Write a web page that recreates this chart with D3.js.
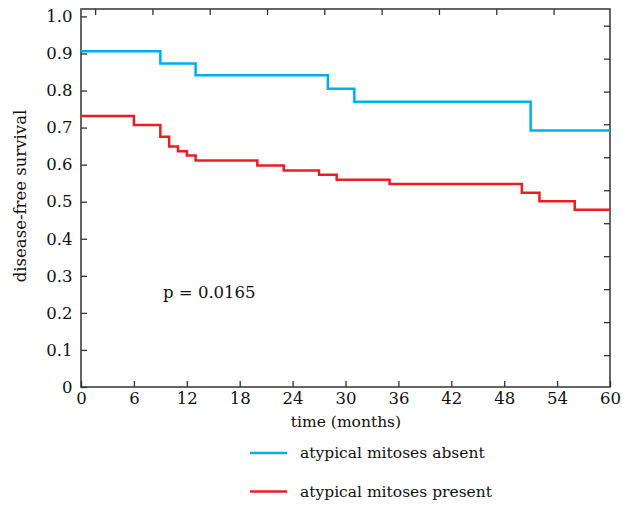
<!DOCTYPE html>
<html>
<head>
<meta charset="utf-8">
<script src="https://cdn.jsdelivr.net/npm/d3@7"></script>
<style>
  body { margin: 0; background: #fff; }
</style>
</head>
<body>
<div id="container"></div>
<script>
// chart data
let absentTimes = [0, 9, 13, 28, 31, 51, 60];
let absentSurv = [0.906, 0.873, 0.841, 0.805, 0.770, 0.692, 0.692];

let presentTimes = [0, 6, 9, 10, 11, 12, 13, 20, 23, 27, 29, 35, 50, 52, 56, 60];
let presentSurv = [0.731, 0.707, 0.675, 0.649, 0.636, 0.625, 0.611, 0.598, 0.584, 0.573, 0.559, 0.548, 0.524, 0.501, 0.478, 0.478];

let xTicks = [0, 6, 12, 18, 24, 30, 36, 42, 48, 54, 60];
let yTicks = [0, 0.1, 0.2, 0.3, 0.4, 0.5, 0.6, 0.7, 0.8, 0.9, 1.0];
// the top and right ticks of the frame are not aligned with the labelled ones
let topTicks = [1.6, 8.1, 14.6, 21.1, 27.6, 34.1, 40.6, 47.1, 53.6];
let rightTicks = [0.086, 0.175, 0.264, 0.353, 0.442, 0.531, 0.620, 0.709, 0.797, 0.886, 0.975];

let seriesNames = ["atypical mitoses absent", "atypical mitoses present"];
let seriesColors = ["#00aeef", "#ed1c24"];

let w = 622;
let h = 506;
let plotLeft = 81, plotRight = 610, plotTop = 9, plotBottom = 387;
let font = "'DejaVu Serif', 'Liberation Serif', serif";

let viz = d3.select("#container")
  .append("svg")
    .attr("width", w)
    .attr("height", h);

let xScale = d3.scaleLinear().domain([0, 60]).range([plotLeft, plotRight]);
let yScale = d3.scaleLinear().domain([0, 1.02]).range([plotBottom, plotTop]);

// frame
viz.append("rect")
  .attr("x", plotLeft).attr("y", plotTop)
  .attr("width", plotRight - plotLeft).attr("height", plotBottom - plotTop)
  .attr("fill", "none").attr("stroke", "#333").attr("stroke-width", 1.5);

// bottom axis, ticks pointing in
let xAxis = d3.axisBottom(xScale).tickValues(xTicks).tickSizeInner(-6).tickSizeOuter(0).tickPadding(5)
  .tickFormat(d3.format("d"));
let xAxisGroup = viz.append("g").attr("transform", "translate(0," + plotBottom + ")").call(xAxis);

let yAxis = d3.axisLeft(yScale).tickValues(yTicks).tickSizeInner(-6).tickSizeOuter(0).tickPadding(8.5)
  .tickFormat(function(d){ return d == 0 ? "0" : d3.format(".1f")(d); });
let yAxisGroup = viz.append("g").attr("transform", "translate(" + plotLeft + ",0)").call(yAxis);

let topAxis = d3.axisTop(xScale).tickValues(topTicks).tickSizeInner(-6).tickSizeOuter(0).tickFormat("");
viz.append("g").attr("transform", "translate(0," + plotTop + ")").call(topAxis);

let rightAxis = d3.axisRight(yScale).tickValues(rightTicks).tickSizeInner(-6).tickSizeOuter(0).tickFormat("");
viz.append("g").attr("transform", "translate(" + plotRight + ",0)").call(rightAxis);

viz.selectAll(".domain").remove();
viz.selectAll(".tick line").attr("stroke", "#333").attr("stroke-width", 1.3);
viz.selectAll(".tick text").style("font-size", "16.5px").style("font-family", font).attr("fill", "#111");

// survival curves
let series = [
  absentTimes.map(function(t, i){ return [t, absentSurv[i]]; }),
  presentTimes.map(function(t, i){ return [t, presentSurv[i]]; })
];
let line = d3.line()
  .x(function(d){ return xScale(d[0]); })
  .y(function(d){ return yScale(d[1]); })
  .curve(d3.curveStepAfter);

viz.append("g").selectAll("path")
  .data(series)
  .enter()
  .append("path")
    .attr("d", line)
    .attr("fill", "none")
    .attr("stroke", function(d, i){ return seriesColors[i]; })
    .attr("stroke-width", 2.5);

// axis titles
viz.append("text")
  .attr("x", 346).attr("y", 427)
  .attr("text-anchor", "middle").attr("fill", "#111")
  .style("font-size", "15.5px").style("font-family", font)
  .text("time (months)");

viz.append("text")
  .attr("transform", "translate(26,196) rotate(-90)")
  .attr("text-anchor", "middle").attr("fill", "#111")
  .style("font-size", "16.5px").style("font-family", font)
  .text("disease-free survival");

viz.append("text")
  .attr("x", 163).attr("y", 298).attr("fill", "#111")
  .style("font-size", "16.5px").style("font-family", font)
  .text("p = 0.0165");

// legend
let legend = viz.append("g").selectAll("g")
  .data(seriesNames)
  .enter()
  .append("g")
    .attr("transform", function(d, i){ return "translate(250," + (453 + i * 38.5) + ")"; });
legend.append("line")
  .attr("x1", 0).attr("x2", 37)
  .attr("stroke", function(d, i){ return seriesColors[i]; })
  .attr("stroke-width", 2.5);
legend.append("text")
  .attr("x", 50).attr("y", 5).attr("fill", "#111")
  .style("font-size", "15.5px").style("font-family", font)
  .text(function(d){ return d; });
</script>
</body>
</html>
